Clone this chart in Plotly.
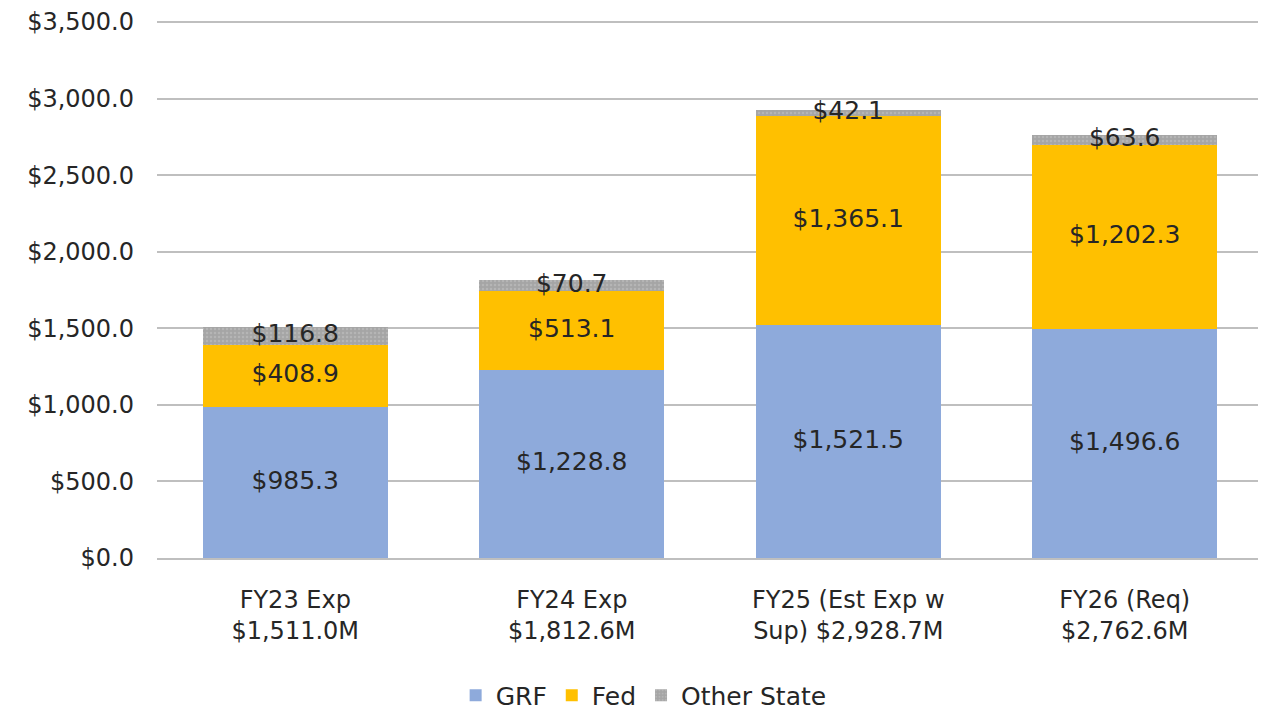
import plotly.graph_objects as go

categories = ["FY23 Exp<br>$1,511.0M", "FY24 Exp<br>$1,812.6M",
              "FY25 (Est Exp w<br>Sup) $2,928.7M", "FY26 (Req)<br>$2,762.6M"]
grf = [985.3, 1228.8, 1521.5, 1496.6]
fed = [408.9, 513.1, 1365.1, 1202.3]
other = [116.8, 70.7, 42.1, 63.6]
y_ticks = [0, 500, 1000, 1500, 2000, 2500, 3000, 3500]

FONT = "'DejaVu Sans', sans-serif"
TXT = "#262626"

def fmt(v):
    return "${:,.1f}".format(v)

fig = go.Figure()
fig.add_trace(go.Bar(name="GRF", x=categories, y=grf, marker=dict(color="#8eaadb", line=dict(width=0))))
fig.add_trace(go.Bar(name="Fed", x=categories, y=fed, marker=dict(color="#ffc000", line=dict(width=0))))
fig.add_trace(go.Bar(name="Other State", x=categories, y=other,
                     marker=dict(color="#a5a5a5", line=dict(width=0),
                                 pattern=dict(shape=".", fgcolor="#c4c4c4", size=4, solidity=0.3))))

# centered labels per segment
bases = [0] * len(categories)
for vals in (grf, fed, other):
    mids = [b + v / 2 for b, v in zip(bases, vals)]
    fig.add_trace(go.Scatter(x=categories, y=mids, mode="text", text=[fmt(v) for v in vals],
                             textfont=dict(family=FONT, size=25, color=TXT),
                             showlegend=False, hoverinfo="skip", cliponaxis=False))
    bases = [b + v for b, v in zip(bases, vals)]

# page body has an 8px margin, so the figure is sized to fit inside the window
fig.update_layout(
    barmode="stack",
    bargap=0.33,
    width=1258, height=702,
    margin=dict(l=149, r=3, t=11, b=152, autoexpand=False),
    paper_bgcolor="white", plot_bgcolor="white",
    font=dict(family=FONT, size=23, color=TXT),
    legend=dict(orientation="h", x=0.44, xanchor="center", y=-0.255, yanchor="middle",
                font=dict(family=FONT, size=25, color=TXT), traceorder="normal",
                itemwidth=30),
    xaxis=dict(showgrid=False, showline=True, linecolor="#bfbfbf", linewidth=2,
               ticks="", automargin=False, ticklabelstandoff=19,
               tickfont=dict(family=FONT, size=24, color=TXT)),
    yaxis=dict(range=[0, 3520], tickvals=y_ticks, ticktext=[fmt(v) for v in y_ticks],
               showgrid=True, gridcolor="#bfbfbf", gridwidth=2, zeroline=False,
               showline=False, ticks="", ticklabelstandoff=22, automargin=False,
               tickfont=dict(family=FONT, size=24, color=TXT)),
)

fig.write_html("out.html")
